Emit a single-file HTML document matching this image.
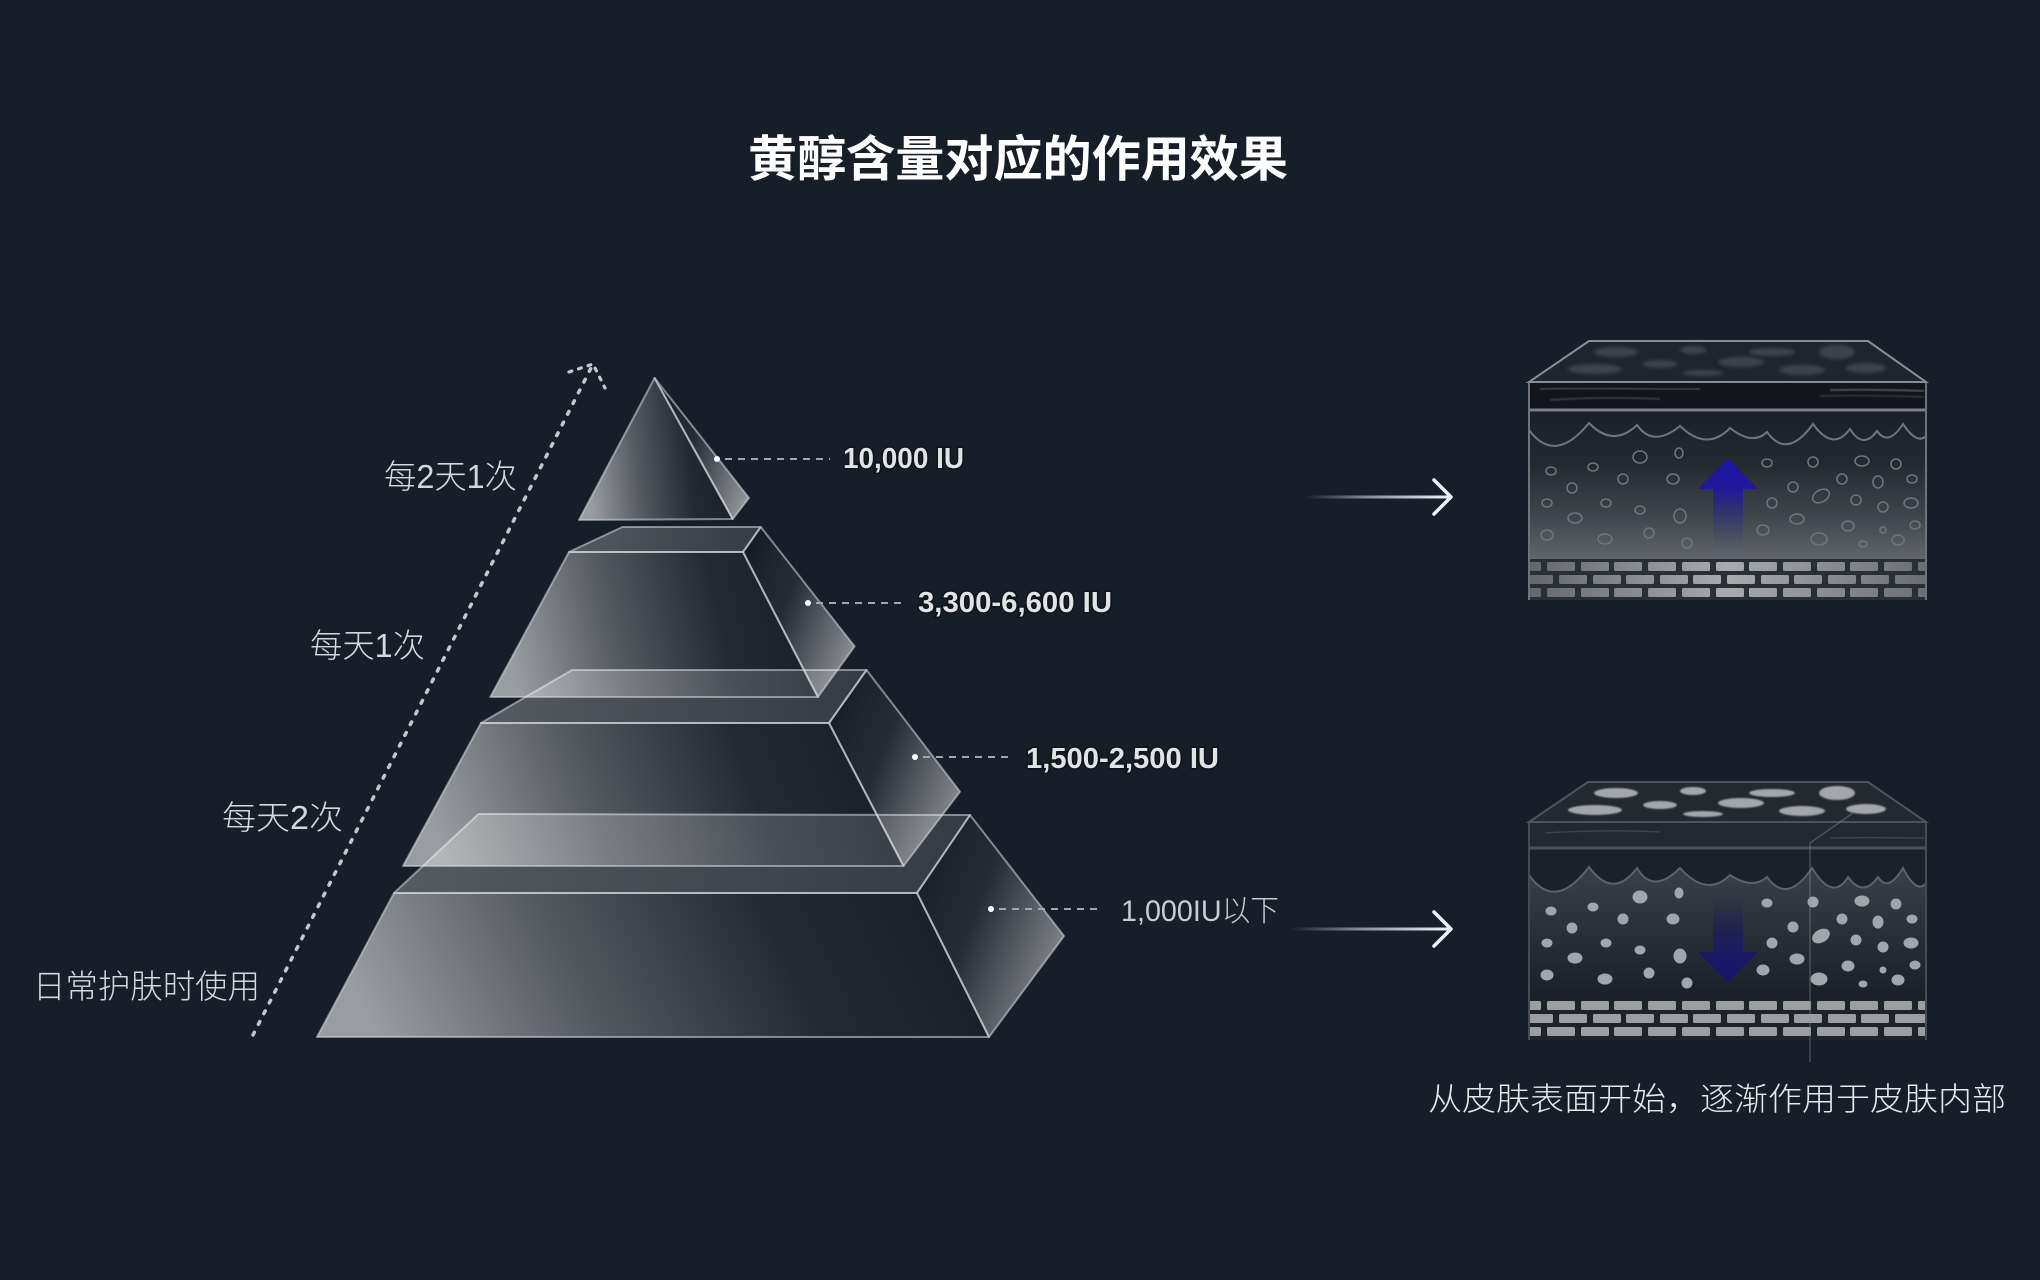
<!DOCTYPE html>
<html>
<head>
<meta charset="utf-8">
<style>
  html,body{margin:0;padding:0;background:#181e27;}
  svg{display:block;}
</style>
</head>
<body>
<svg width="2040" height="1280" viewBox="0 0 2040 1280" xmlns="http://www.w3.org/2000/svg">
  <defs>
    <linearGradient id="frontG" x1="0" y1="0.1" x2="1" y2="0">
      <stop offset="0" stop-color="#ffffff" stop-opacity="0.56"/>
      <stop offset="0.33" stop-color="#ffffff" stop-opacity="0.26"/>
      <stop offset="0.66" stop-color="#ffffff" stop-opacity="0.05"/>
      <stop offset="1" stop-color="#000000" stop-opacity="0.05"/>
    </linearGradient>
    <linearGradient id="topG" x1="0" y1="0" x2="1" y2="0">
      <stop offset="0" stop-color="#ffffff" stop-opacity="0.27"/>
      <stop offset="0.6" stop-color="#ffffff" stop-opacity="0.18"/>
      <stop offset="1" stop-color="#ffffff" stop-opacity="0.13"/>
    </linearGradient>
    <linearGradient id="rightG" x1="0" y1="0.2" x2="1" y2="0.8">
      <stop offset="0" stop-color="#000000" stop-opacity="0.08"/>
      <stop offset="0.4" stop-color="#ffffff" stop-opacity="0.06"/>
      <stop offset="1" stop-color="#ffffff" stop-opacity="0.52"/>
    </linearGradient>
    <linearGradient id="arrowL1" gradientUnits="userSpaceOnUse" x1="1305" y1="0" x2="1450" y2="0">
      <stop offset="0" stop-color="#ecebf7" stop-opacity="0"/>
      <stop offset="0.45" stop-color="#ecebf7" stop-opacity="0.55"/>
      <stop offset="1" stop-color="#f4f3fb" stop-opacity="1"/>
    </linearGradient>
    <linearGradient id="arrowL2" gradientUnits="userSpaceOnUse" x1="1290" y1="0" x2="1450" y2="0">
      <stop offset="0" stop-color="#ecebf7" stop-opacity="0"/>
      <stop offset="0.45" stop-color="#ecebf7" stop-opacity="0.55"/>
      <stop offset="1" stop-color="#f4f3fb" stop-opacity="1"/>
    </linearGradient>
    <linearGradient id="derm1" x1="0" y1="0" x2="0" y2="1">
      <stop offset="0" stop-color="#1b2028"/>
      <stop offset="0.35" stop-color="#242930"/>
      <stop offset="0.7" stop-color="#40454c"/>
      <stop offset="1" stop-color="#62666c"/>
    </linearGradient>
    <linearGradient id="derm2" x1="0" y1="0" x2="0" y2="1">
      <stop offset="0" stop-color="#3b4048"/>
      <stop offset="0.5" stop-color="#2a2f37"/>
      <stop offset="1" stop-color="#1a1f27"/>
    </linearGradient>
    <linearGradient id="brickG" gradientUnits="userSpaceOnUse" x1="1529" y1="0" x2="1926" y2="0">
      <stop offset="0" stop-color="#63676c"/>
      <stop offset="0.5" stop-color="#a9abae"/>
      <stop offset="1" stop-color="#6a6e73"/>
    </linearGradient>
    <linearGradient id="blueUp" x1="0" y1="0" x2="0" y2="1">
      <stop offset="0" stop-color="#1b12a6"/>
      <stop offset="0.35" stop-color="#201a98"/>
      <stop offset="1" stop-color="#3a3f6a" stop-opacity="0"/>
    </linearGradient>
    <linearGradient id="blueDown" x1="0" y1="0" x2="0" y2="1">
      <stop offset="0" stop-color="#1c1a5a" stop-opacity="0"/>
      <stop offset="0.6" stop-color="#1b1866" stop-opacity="0.9"/>
      <stop offset="1" stop-color="#17136e"/>
    </linearGradient>
    <filter id="blur1" x="-20%" y="-50%" width="140%" height="200%">
      <feGaussianBlur stdDeviation="1.6"/>
    </filter>
    <filter id="blur05" x="-20%" y="-50%" width="140%" height="200%">
      <feGaussianBlur stdDeviation="0.7"/>
    </filter>
    <g id="bricks">
      <rect x="1529" y="562" width="12" height="9" rx="1.5"/>
      <rect x="1547" y="562" width="28" height="9" rx="1.5"/>
      <rect x="1581" y="562" width="28" height="9" rx="1.5"/>
      <rect x="1614" y="562" width="28" height="9" rx="1.5"/>
      <rect x="1648" y="562" width="28" height="9" rx="1.5"/>
      <rect x="1682" y="562" width="28" height="9" rx="1.5"/>
      <rect x="1716" y="562" width="28" height="9" rx="1.5"/>
      <rect x="1749" y="562" width="28" height="9" rx="1.5"/>
      <rect x="1783" y="562" width="28" height="9" rx="1.5"/>
      <rect x="1817" y="562" width="28" height="9" rx="1.5"/>
      <rect x="1850" y="562" width="28" height="9" rx="1.5"/>
      <rect x="1884" y="562" width="28" height="9" rx="1.5"/>
      <rect x="1918" y="562" width="8" height="9" rx="1.5"/>

      <rect x="1529" y="575" width="24" height="9" rx="1.5"/>
      <rect x="1559" y="575" width="28" height="9" rx="1.5"/>
      <rect x="1593" y="575" width="28" height="9" rx="1.5"/>
      <rect x="1626" y="575" width="28" height="9" rx="1.5"/>
      <rect x="1660" y="575" width="28" height="9" rx="1.5"/>
      <rect x="1693" y="575" width="28" height="9" rx="1.5"/>
      <rect x="1727" y="575" width="28" height="9" rx="1.5"/>
      <rect x="1761" y="575" width="28" height="9" rx="1.5"/>
      <rect x="1794" y="575" width="28" height="9" rx="1.5"/>
      <rect x="1828" y="575" width="28" height="9" rx="1.5"/>
      <rect x="1861" y="575" width="28" height="9" rx="1.5"/>
      <rect x="1895" y="575" width="31" height="9" rx="1.5"/>

      <rect x="1529" y="588" width="12" height="9" rx="1.5"/>
      <rect x="1547" y="588" width="28" height="9" rx="1.5"/>
      <rect x="1581" y="588" width="28" height="9" rx="1.5"/>
      <rect x="1614" y="588" width="28" height="9" rx="1.5"/>
      <rect x="1648" y="588" width="28" height="9" rx="1.5"/>
      <rect x="1682" y="588" width="28" height="9" rx="1.5"/>
      <rect x="1716" y="588" width="28" height="9" rx="1.5"/>
      <rect x="1749" y="588" width="28" height="9" rx="1.5"/>
      <rect x="1783" y="588" width="28" height="9" rx="1.5"/>
      <rect x="1817" y="588" width="28" height="9" rx="1.5"/>
      <rect x="1850" y="588" width="28" height="9" rx="1.5"/>
      <rect x="1884" y="588" width="28" height="9" rx="1.5"/>
      <rect x="1918" y="588" width="8" height="9" rx="1.5"/>
    </g>
    <g id="cells">
      <ellipse cx="1640" cy="457" rx="7" ry="6"/>
      <ellipse cx="1679" cy="453" rx="4" ry="5"/>
      <ellipse cx="1593" cy="467" rx="5" ry="4"/>
      <ellipse cx="1551" cy="471" rx="5" ry="4"/>
      <ellipse cx="1623" cy="479" rx="5" ry="5"/>
      <ellipse cx="1673" cy="479" rx="6" ry="5"/>
      <ellipse cx="1572" cy="488" rx="5" ry="5"/>
      <ellipse cx="1547" cy="503" rx="5" ry="4"/>
      <ellipse cx="1606" cy="503" rx="5" ry="4"/>
      <ellipse cx="1640" cy="510" rx="5" ry="4"/>
      <ellipse cx="1680" cy="516" rx="6" ry="7"/>
      <ellipse cx="1575" cy="518" rx="7" ry="5"/>
      <ellipse cx="1547" cy="535" rx="6" ry="5"/>
      <ellipse cx="1605" cy="539" rx="7" ry="5"/>
      <ellipse cx="1649" cy="533" rx="5" ry="5"/>
      <ellipse cx="1687" cy="543" rx="5" ry="5"/>
      <ellipse cx="1767" cy="463" rx="5" ry="4"/>
      <ellipse cx="1813" cy="462" rx="5" ry="5"/>
      <ellipse cx="1862" cy="461" rx="7" ry="5"/>
      <ellipse cx="1896" cy="464" rx="5" ry="5"/>
      <ellipse cx="1842" cy="479" rx="5" ry="5"/>
      <ellipse cx="1878" cy="482" rx="5" ry="6"/>
      <ellipse cx="1912" cy="479" rx="5" ry="4"/>
      <ellipse cx="1793" cy="487" rx="5" ry="5"/>
      <ellipse cx="1821" cy="496" rx="9" ry="6" transform="rotate(-30 1821 496)"/>
      <ellipse cx="1856" cy="500" rx="5" ry="5"/>
      <ellipse cx="1883" cy="507" rx="5" ry="5"/>
      <ellipse cx="1911" cy="503" rx="7" ry="5"/>
      <ellipse cx="1772" cy="503" rx="5" ry="5"/>
      <ellipse cx="1797" cy="519" rx="7" ry="5"/>
      <ellipse cx="1848" cy="526" rx="6" ry="5"/>
      <ellipse cx="1883" cy="530" rx="3" ry="3"/>
      <ellipse cx="1915" cy="525" rx="5" ry="4"/>
      <ellipse cx="1763" cy="530" rx="6" ry="5"/>
      <ellipse cx="1819" cy="539" rx="8" ry="6"/>
      <ellipse cx="1863" cy="544" rx="4" ry="3"/>
      <ellipse cx="1898" cy="540" rx="6" ry="5"/>
    </g>
    <g id="topspots">
      <ellipse cx="1616" cy="352" rx="22" ry="5"/>
      <ellipse cx="1693" cy="350" rx="13" ry="4"/>
      <ellipse cx="1772" cy="352" rx="23" ry="4"/>
      <ellipse cx="1837" cy="352" rx="18" ry="7"/>
      <ellipse cx="1595" cy="369" rx="27" ry="5"/>
      <ellipse cx="1660" cy="364" rx="17" ry="4"/>
      <ellipse cx="1703" cy="373" rx="20" ry="3"/>
      <ellipse cx="1741" cy="362" rx="23" ry="5"/>
      <ellipse cx="1802" cy="370" rx="23" ry="5"/>
      <ellipse cx="1866" cy="368" rx="20" ry="5"/>
    </g>
  </defs>

  <!-- Title -->
  <text x="748" y="176" font-family="Liberation Sans, Noto Sans CJK SC, sans-serif" font-size="49" font-weight="700" fill="#ffffff" textLength="540" lengthAdjust="spacingAndGlyphs">黄醇含量对应的作用效果</text>

  <!-- Dotted rising arrow -->
  <path d="M253,1035 L593,364" stroke="#c3c7cd" stroke-width="3.5" stroke-linecap="round" stroke-dasharray="3 9" fill="none"/>
  <path d="M569,372 L593,364 L605,388" stroke="#c3c7cd" stroke-width="3.2" stroke-linecap="round" stroke-dasharray="3 7" fill="none"/>

  <!-- Left labels -->
  <g font-family="Liberation Sans, Noto Sans CJK SC, sans-serif" font-weight="300" fill="#d4d7db">
    <text x="384" y="488" font-size="33" textLength="133" lengthAdjust="spacingAndGlyphs">每2天1次</text>
    <text x="310" y="657" font-size="33" textLength="115" lengthAdjust="spacingAndGlyphs">每天1次</text>
    <text x="222" y="829" font-size="33" textLength="121" lengthAdjust="spacingAndGlyphs">每天2次</text>
    <text x="33" y="998" font-size="33" textLength="227" lengthAdjust="spacingAndGlyphs">日常护肤时使用</text>
  </g>

  <!-- Pyramid -->
  <g stroke="#d7dadd" stroke-opacity="0.55" stroke-width="2" stroke-linejoin="round">
    <!-- Tier 4 -->
    <polygon points="478.6,814 970,815 917,893 394,893" fill="url(#topG)"/>
    <polygon points="394,893 917,893 989,1037 317,1037" fill="url(#frontG)"/>
    <polygon points="917,893 970,815 1064,936 989,1037" fill="url(#rightG)"/>
    <!-- Tier 3 -->
    <polygon points="572,670 866.5,670 829,723 481,723" fill="url(#topG)"/>
    <polygon points="481,723 829,723 903.5,866 403,866" fill="url(#frontG)"/>
    <polygon points="829,723 866.5,670 960,791.7 903.5,866" fill="url(#rightG)"/>
    <!-- Tier 2 -->
    <polygon points="622.4,527 760.7,527 743,552 569,552" fill="url(#topG)"/>
    <polygon points="569,552 743,552 817.9,697 490.3,697" fill="url(#frontG)"/>
    <polygon points="743,552 760.7,527 854.6,646.4 817.9,697" fill="url(#rightG)"/>
    <!-- Top -->
    <polygon points="654.6,378 579,520 732.7,519" fill="url(#frontG)"/>
    <polygon points="654.6,378 749,498 732.7,519" fill="url(#rightG)"/>
  </g>

  <!-- Leaders -->
  <g stroke="#a3a7ad" stroke-width="2" stroke-dasharray="7 6" fill="none">
    <line x1="725" y1="459" x2="830" y2="459"/>
    <line x1="816" y1="603" x2="906" y2="603"/>
    <line x1="923" y1="757" x2="1010" y2="757"/>
    <line x1="999" y1="909" x2="1101" y2="909"/>
  </g>
  <g fill="#ffffff">
    <circle cx="717" cy="459" r="3"/>
    <circle cx="808" cy="603" r="3"/>
    <circle cx="915" cy="757" r="3"/>
    <circle cx="991" cy="909" r="3"/>
  </g>

  <!-- Value labels -->
  <g font-family="Liberation Sans, sans-serif" font-weight="700" font-size="29" fill="#e2e3e5" stroke="#0b0f15" stroke-width="3" stroke-opacity="0.7" paint-order="stroke">
    <text x="843" y="468" textLength="121" lengthAdjust="spacingAndGlyphs">10,000 IU</text>
    <text x="918" y="612" textLength="194" lengthAdjust="spacingAndGlyphs">3,300-6,600 IU</text>
    <text x="1026" y="768" textLength="193" lengthAdjust="spacingAndGlyphs">1,500-2,500 IU</text>
  </g>
  <text x="1121" y="921" font-family="Liberation Sans, Noto Sans CJK SC, sans-serif" font-weight="300" font-size="30" fill="#c9ccd0" textLength="158" lengthAdjust="spacingAndGlyphs">1,000IU以下</text>

  <!-- Right arrows -->
  <rect x="1305" y="495.5" width="145" height="3" fill="url(#arrowL1)"/>
  <polyline points="1434,480 1451,497 1434,514" fill="none" stroke="#f2f1fa" stroke-width="3.5" stroke-linecap="round" stroke-linejoin="round"/>
  <rect x="1290" y="927.5" width="160" height="3" fill="url(#arrowL2)"/>
  <polyline points="1434,912 1451,929 1434,946" fill="none" stroke="#f2f1fa" stroke-width="3.5" stroke-linecap="round" stroke-linejoin="round"/>

  <!-- Skin block top -->
  <g>
    <polygon points="1589,341 1868,341 1926,382 1529,382" fill="#20252d"/>
    <use href="#topspots" fill="#3d424b" filter="url(#blur1)"/>
    <polygon points="1589,341 1868,341 1926,382 1529,382" fill="none" stroke="#8a8e94" stroke-width="2"/>
    <rect x="1529" y="382" width="397" height="30" fill="#12161c"/>
    <path d="M1540,389 C1600,387 1660,390 1700,389" stroke="#6f747b" stroke-width="1.5" fill="none" opacity="0.6" filter="url(#blur05)"/>
    <path d="M1550,400 C1580,398 1620,397 1660,399" stroke="#6f747b" stroke-width="1.5" fill="none" opacity="0.5" filter="url(#blur05)"/>
    <path d="M1830,390 C1870,389 1900,390 1924,391" stroke="#7c8188" stroke-width="1.5" fill="none" opacity="0.7" filter="url(#blur05)"/>
    <path d="M1820,396 C1860,395 1900,396 1924,397" stroke="#5c6168" stroke-width="1.2" fill="none" opacity="0.6" filter="url(#blur05)"/>
    <rect x="1529" y="412" width="397" height="148" fill="url(#derm1)"/>
    <line x1="1529" y1="410" x2="1926" y2="410" stroke="#7c8086" stroke-width="3"/>
    <path d="M1529,430 Q1555,465 1589,423 Q1613,448 1637,425 Q1653,448 1680,426 Q1707,452 1730,428 Q1753,446 1767,432 Q1787,460 1813,424 Q1833,452 1850,429 Q1863,450 1877,431 Q1888,447 1903,424 Q1917,445 1926,436" fill="none" stroke="#70757b" stroke-width="2"/>
    <use href="#cells" fill="none" stroke="#6f747a" stroke-width="1.6"/>
    <polygon points="1728,458 1758,489 1743,489 1743,548 1713,548 1713,489 1698,489" fill="url(#blueUp)"/>
    <rect x="1529" y="559" width="397" height="41" fill="#2a2f36"/>
    <use href="#bricks" fill="url(#brickG)"/>
    <line x1="1529" y1="382" x2="1529" y2="600" stroke="#6f747a" stroke-width="2"/>
    <line x1="1926" y1="382" x2="1926" y2="600" stroke="#6f747a" stroke-width="2"/>
    <line x1="1529" y1="382" x2="1926" y2="382" stroke="#8a8e94" stroke-width="2"/>
  </g>

  <!-- Skin block bottom -->
  <g>
    <polygon points="1588,782 1868,782 1926,822 1529,822" fill="#242930"/>
    <use href="#topspots" transform="translate(0,441)" fill="#a3a6aa" filter="url(#blur05)"/>
    <polygon points="1588,782 1868,782 1926,822 1529,822" fill="none" stroke="#4f545b" stroke-width="2"/>
    <rect x="1529" y="822" width="397" height="178" fill="#1c2129"/>
    <rect x="1529" y="822" width="397" height="26" fill="#232830"/>
    <path d="M1545,833 C1580,831 1620,830 1660,832" stroke="#4a4f56" stroke-width="1.5" fill="none" opacity="0.7"/>
    <path d="M1830,838 C1870,837 1900,838 1924,838" stroke="#4a4f56" stroke-width="1.5" fill="none" opacity="0.7"/>
    <line x1="1529" y1="848" x2="1926" y2="848" stroke="#4c5157" stroke-width="3"/>
    <path d="M1529,875 Q1555,912 1589,867 Q1613,900 1637,868 Q1653,895 1680,868 Q1707,898 1730,875 Q1753,890 1767,877 Q1787,905 1812,868 Q1833,902 1848,877 Q1863,898 1878,877 Q1888,893 1903,868 Q1917,895 1926,883 L1926,1000 L1529,1000 Z" fill="url(#derm2)" stroke="#5d6268" stroke-width="2"/>
    <use href="#cells" transform="translate(0,440)" fill="#a2a5a9" stroke="#a2a5a9" stroke-width="1"/>
    <polygon points="1728,982 1758,952 1743,952 1743,896 1713,896 1713,952 1698,952" fill="url(#blueDown)"/>
    <rect x="1529" y="999" width="397" height="41" fill="#1e232a"/>
    <use href="#bricks" transform="translate(0,439)" fill="#9c9ea2"/>
    <line x1="1529" y1="822" x2="1529" y2="1040" stroke="#464b52" stroke-width="2"/>
    <line x1="1926" y1="822" x2="1926" y2="1040" stroke="#464b52" stroke-width="2"/>
    <line x1="1529" y1="822" x2="1926" y2="822" stroke="#4f545b" stroke-width="2"/>
    <polyline points="1853,813 1810,843 1810,1062" fill="none" stroke="#8d9197" stroke-opacity="0.4" stroke-width="1.5"/>
  </g>

  <!-- Caption -->
  <text x="1428" y="1110" font-family="Liberation Sans, Noto Sans CJK SC, sans-serif" font-weight="300" font-size="32" fill="#e6e8ea" textLength="578" lengthAdjust="spacingAndGlyphs">从皮肤表面开始，逐渐作用于皮肤内部</text>
</svg>
</body>
</html>
